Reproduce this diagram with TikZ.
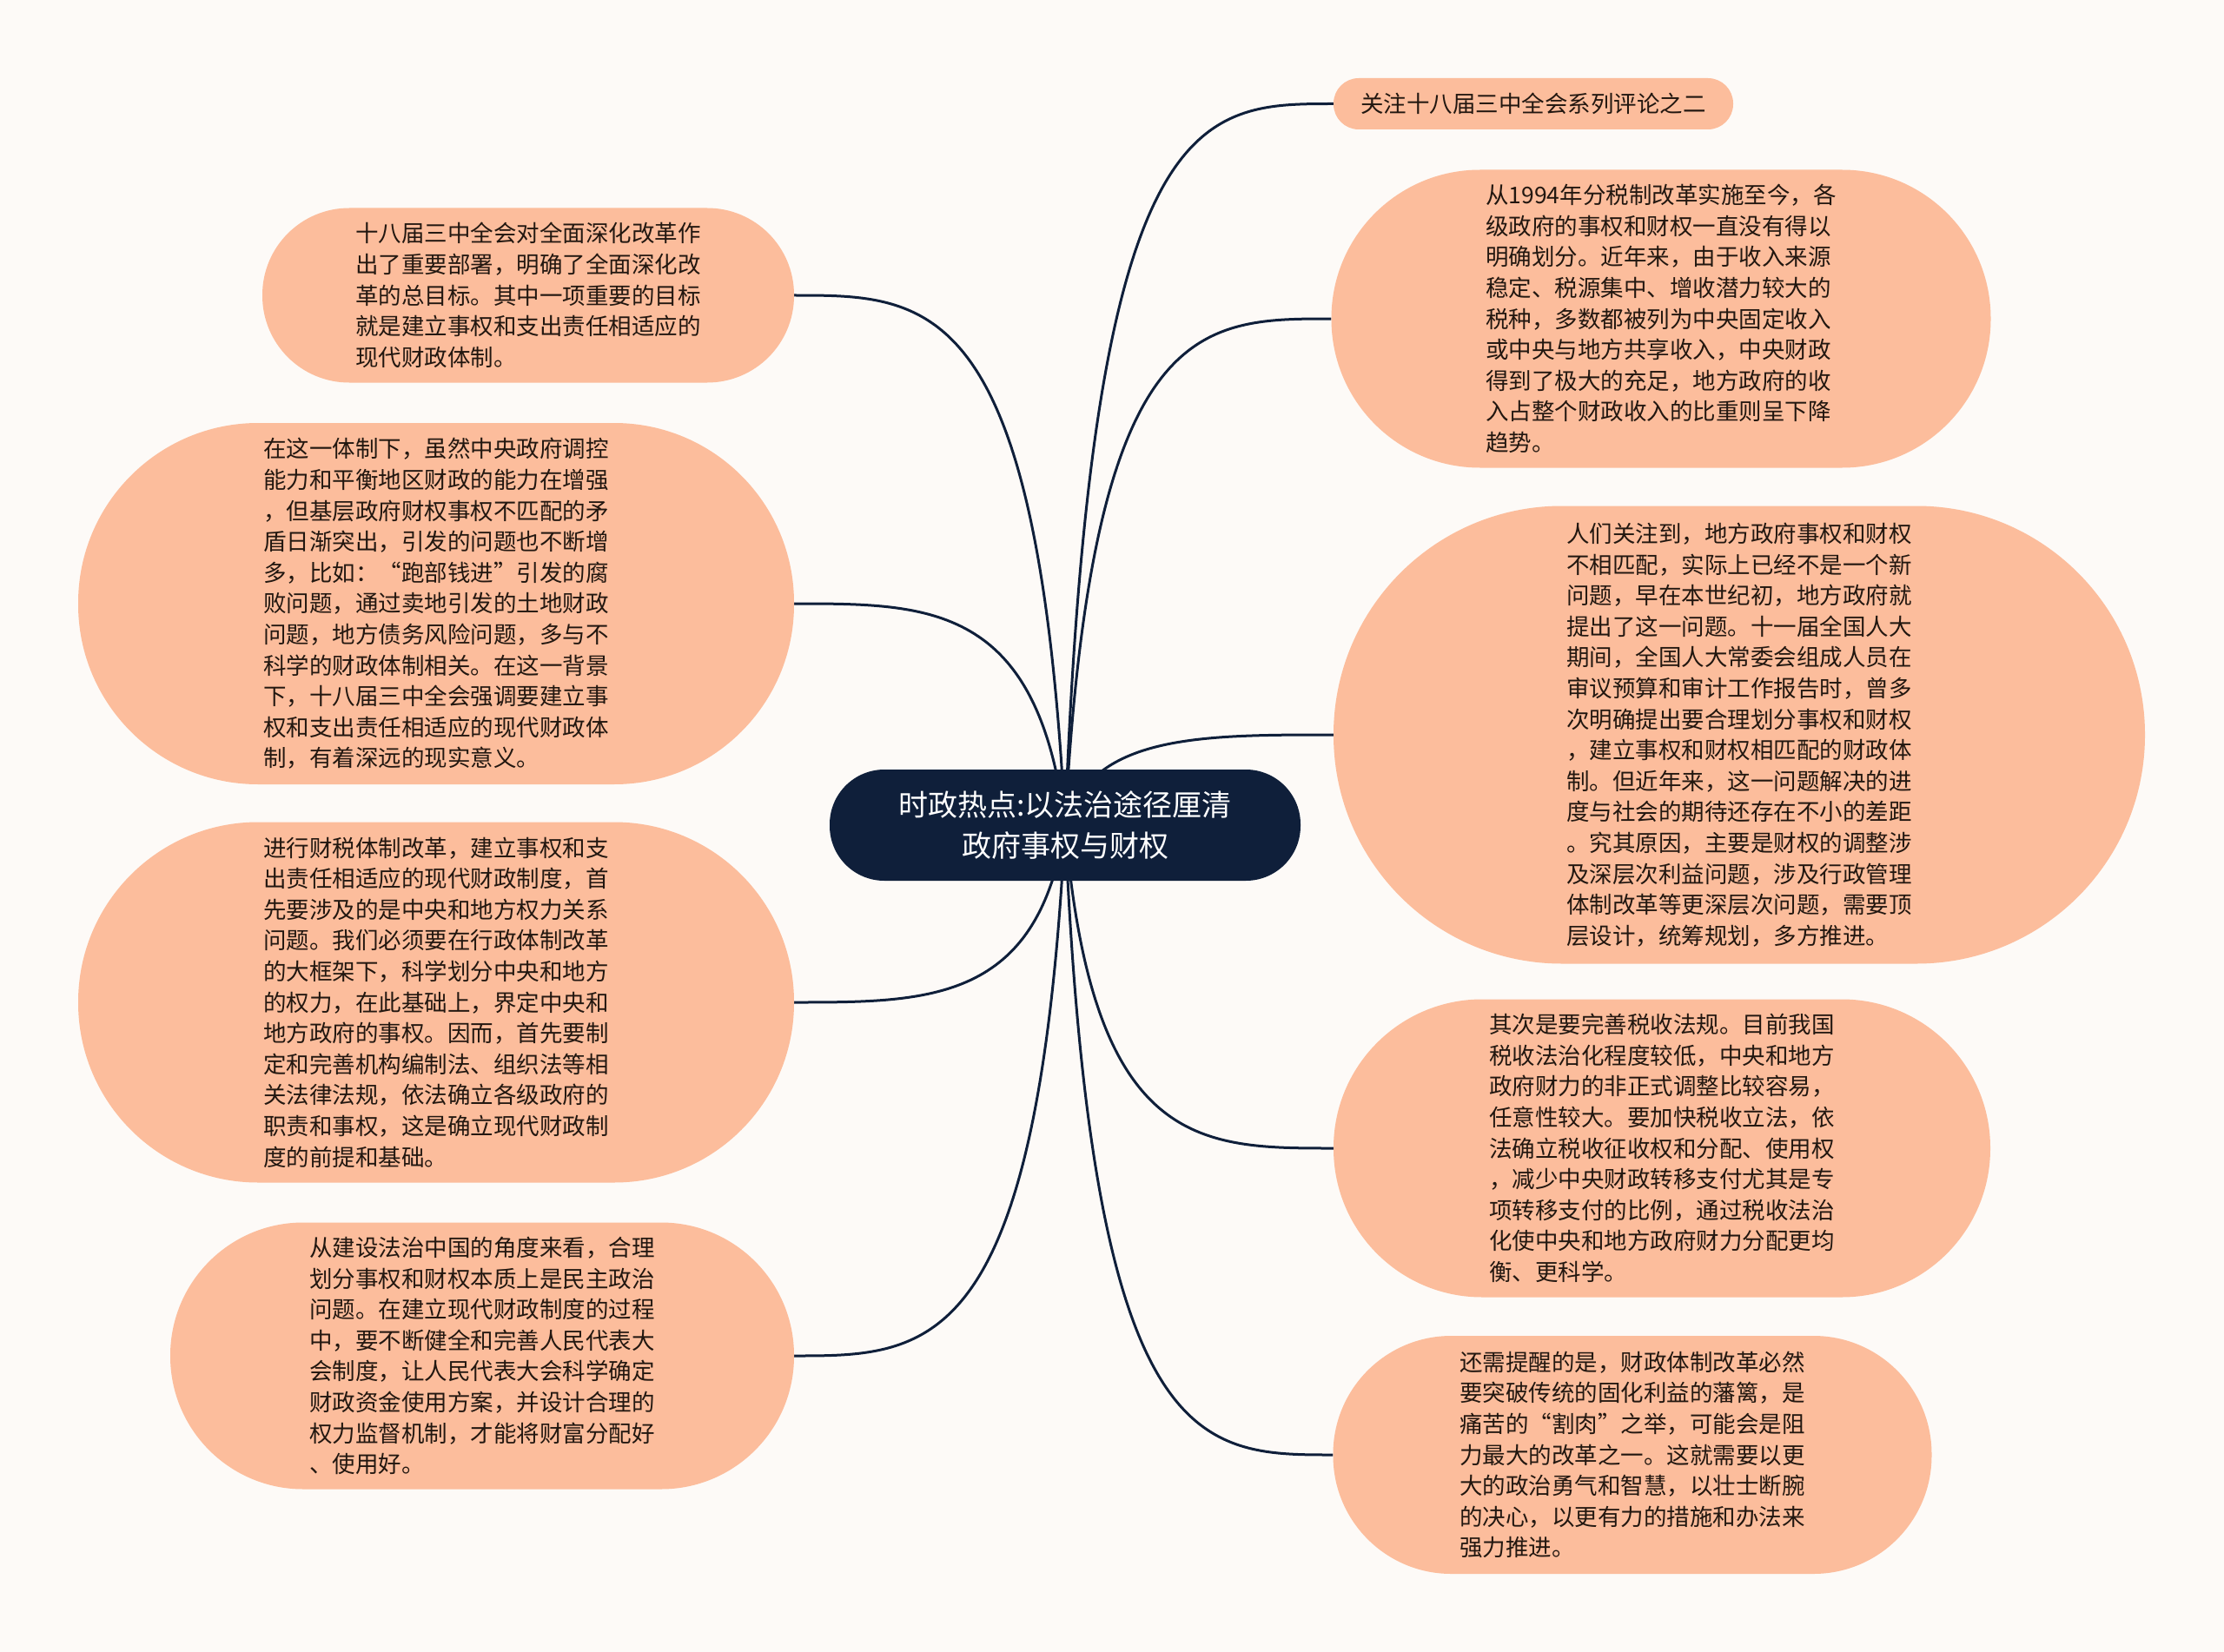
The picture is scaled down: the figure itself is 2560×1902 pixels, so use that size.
\documentclass[tikz,border=0pt]{standalone}
\usepackage{fontspec}
\newfontfamily\cjk{Noto Sans CJK SC}
\usetikzlibrary{calc}
\definecolor{bgc}{HTML}{FDFAF7}
\definecolor{peach}{HTML}{FCBD9C}
\definecolor{navy}{HTML}{0F1F3A}
\definecolor{txt}{HTML}{221710}
\pgfdeclarelayer{under}
\pgfsetlayers{under,main}
\newcommand\qL{\makebox[1em][r]{“}}
\newcommand\qR{\makebox[1em][l]{”}}
\newcommand\mmedge[2]{\draw[edgeline] (#1) let \p1=(#1), \p2=(#2) in .. controls (\x1+0.1*\x2-0.1*\x1,\y2) and (0.5*\x1+0.5*\x2,\y2) .. (\p2);}
\begin{document}
\begin{tikzpicture}[x=1pt,y=-1pt,
 leaf/.style={fill=peach,text=txt,font=\cjk\fontsize{26.5}{35.6}\selectfont,align=left,inner sep=0pt},
 hub/.style={fill=navy,text=white,font=\cjk\fontsize{34}{47}\selectfont,align=center,inner sep=0pt,minimum width=542pt,minimum height=128pt,rounded corners=63pt},
 edgeline/.style={draw=navy,line width=3pt}]
\begin{pgfonlayer}{under}
\fill[bgc] (0,0) rectangle (2560,1902);
\end{pgfonlayer}
\useasboundingbox (0,0) rectangle (2560,1902);

\node[hub] (c) at (1226,950) {时政热点:以法治途径厘清\\政府事权与财权};

\node[leaf,minimum width=460pt,minimum height=59pt,rounded corners=29pt] (r0) at (1765,119.5) {关注十八届三中全会系列评论之二};

\node[leaf,minimum width=759pt,minimum height=343pt,rounded corners=171pt] (r1) at (1912,367) {从1994年分税制改革实施至今，各\\级政府的事权和财权一直没有得以\\明确划分。近年来，由于收入来源\\稳定、税源集中、增收潜力较大的\\税种，多数都被列为中央固定收入\\或中央与地方共享收入，中央财政\\得到了极大的充足，地方政府的收\\入占整个财政收入的比重则呈下降\\趋势。};

\node[leaf,minimum width=934pt,minimum height=527pt,rounded corners=263pt] (r2) at (2002,846) {人们关注到，地方政府事权和财权\\不相匹配，实际上已经不是一个新\\问题，早在本世纪初，地方政府就\\提出了这一问题。十一届全国人大\\期间，全国人大常委会组成人员在\\审议预算和审计工作报告时，曾多\\次明确提出要合理划分事权和财权\\，建立事权和财权相匹配的财政体\\制。但近年来，这一问题解决的进\\度与社会的期待还存在不小的差距\\。究其原因，主要是财权的调整涉\\及深层次利益问题，涉及行政管理\\体制改革等更深层次问题，需要顶\\层设计，统筹规划，多方推进。};

\node[leaf,minimum width=756pt,minimum height=343pt,rounded corners=171pt] (r3) at (1913,1322) {其次是要完善税收法规。目前我国\\税收法治化程度较低，中央和地方\\政府财力的非正式调整比较容易，\\任意性较大。要加快税收立法，依\\法确立税收征收权和分配、使用权\\，减少中央财政转移支付尤其是专\\项转移支付的比例，通过税收法治\\化使中央和地方政府财力分配更均\\衡、更科学。};

\node[leaf,minimum width=689pt,minimum height=274pt,rounded corners=136pt] (r4) at (1879,1675) {还需提醒的是，财政体制改革必然\\要突破传统的固化利益的藩篱，是\\痛苦的\qL 割肉\qR 之举，可能会是阻\\力最大的改革之一。这就需要以更\\大的政治勇气和智慧，以壮士断腕\\的决心，以更有力的措施和办法来\\强力推进。};

\node[leaf,minimum width=612pt,minimum height=201pt,rounded corners=100pt] (l1) at (608,340) {十八届三中全会对全面深化改革作\\出了重要部署，明确了全面深化改\\革的总目标。其中一项重要的目标\\就是建立事权和支出责任相适应的\\现代财政体制。};

\node[leaf,minimum width=824pt,minimum height=416pt,rounded corners=207pt] (l2) at (502,695) {在这一体制下，虽然中央政府调控\\能力和平衡地区财政的能力在增强\\，但基层政府财权事权不匹配的矛\\盾日渐突出，引发的问题也不断增\\多，比如：\qL 跑部钱进\qR 引发的腐\\败问题，通过卖地引发的土地财政\\问题，地方债务风险问题，多与不\\科学的财政体制相关。在这一背景\\下，十八届三中全会强调要建立事\\权和支出责任相适应的现代财政体\\制，有着深远的现实意义。};

\node[leaf,minimum width=824pt,minimum height=415pt,rounded corners=207pt] (l3) at (502,1154) {进行财税体制改革，建立事权和支\\出责任相适应的现代财政制度，首\\先要涉及的是中央和地方权力关系\\问题。我们必须要在行政体制改革\\的大框架下，科学划分中央和地方\\的权力，在此基础上，界定中央和\\地方政府的事权。因而，首先要制\\定和完善机构编制法、组织法等相\\关法律法规，依法确立各级政府的\\职责和事权，这是确立现代财政制\\度的前提和基础。};

\node[leaf,minimum width=718pt,minimum height=307pt,rounded corners=153pt] (l4) at (555,1561) {从建设法治中国的角度来看，合理\\划分事权和财权本质上是民主政治\\问题。在建立现代财政制度的过程\\中，要不断健全和完善人民代表大\\会制度，让人民代表大会科学确定\\财政资金使用方案，并设计合理的\\权力监督机制，才能将财富分配好\\、使用好。};

\begin{pgfonlayer}{under}
\mmedge{c.center}{r0.west}
\mmedge{c.center}{r1.west}
\mmedge{c.center}{r2.west}
\mmedge{c.center}{r3.west}
\mmedge{c.center}{r4.west}
\mmedge{c.center}{l1.east}
\mmedge{c.center}{l2.east}
\mmedge{c.center}{l3.east}
\mmedge{c.center}{l4.east}
\end{pgfonlayer}
\end{tikzpicture}
\end{document}
